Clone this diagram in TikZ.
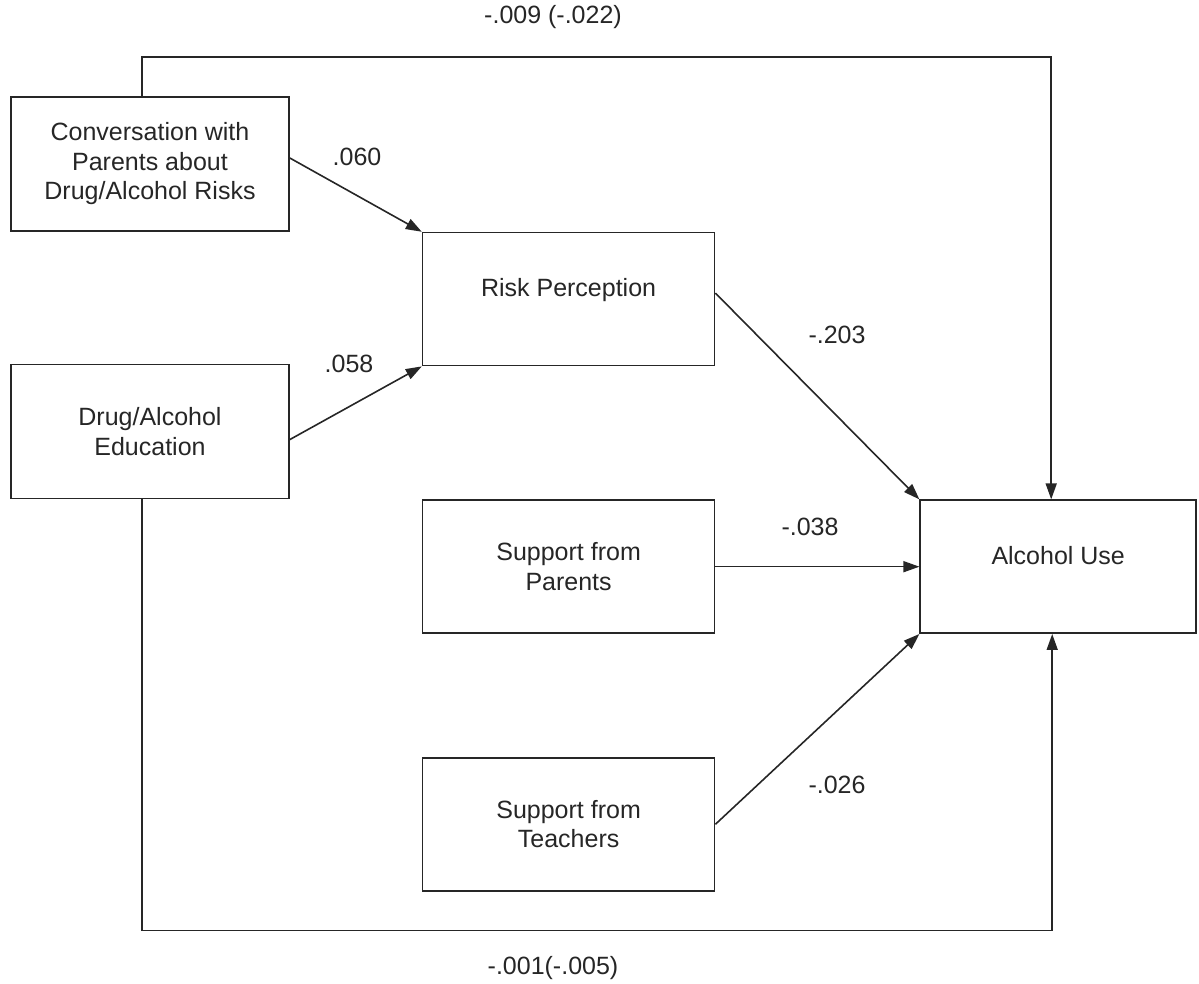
\documentclass[tikz,border=0pt]{standalone}
\usepackage{fontspec}
\setmainfont{Liberation Sans}
\usetikzlibrary{arrows.meta, positioning}
\definecolor{InkGray}{RGB}{38,38,38}
\tikzset{%
  var_block/.style={%
    rectangle,%
    draw=InkGray,%
    line width=1.6pt,%
    minimum width=278pt,%
    minimum height=134pt,%
    text=InkGray,%
    font={\fontsize{25}{29.5}\selectfont},%
    align=center%
  },
  wide_block/.style={%
    var_block,%
    minimum width=292pt,%
    minimum height=133pt%
  },
  raised_text/.style={%
    text depth=23pt%
  },
  coef_annotate/.style={%
    text=InkGray,%
    inner sep=0pt,%
    font={\fontsize{25}{29.5}\selectfont},%
  },
  effect_path/.style={%
    color=InkGray,%
    line width=1.6pt,%
    line join=miter,%
  },
  arrow/.style={-{Triangle[length=16pt, width=11pt]}},
}

\begin{document}
\begin{tikzpicture}[x=1pt, y=1pt]

    \useasboundingbox (0, 0) rectangle (1199, 984);

    \node [var_block] (Conversation) at (150, 820)
      {Conversation with\\Parents about\\Drug/Alcohol Risks};
    \node [var_block, below = 132pt of Conversation] (Education)
      {Drug/Alcohol\\Education};
    \node [wide_block, raised_text, below right = 0pt and 132pt of Conversation] (Risk)
      {Risk Perception};
    \node [wide_block, below = 133pt of Risk] (ParentSupport)
      {Support from\\Parents};
    \node [wide_block, below = 123pt of ParentSupport] (TeacherSupport)
      {Support from\\Teachers};
    \node [var_block, raised_text, minimum width=276pt, minimum height=133pt,
      right = 204pt of ParentSupport] (AlcoholUse) {Alcohol Use};

    \node [coef_annotate] (c_conv) at (357, 827) {.060};
    \node [coef_annotate] (c_edu) at (349, 620) {.058};
    \node [coef_annotate] (c_risk) at (837, 649) {-.203};
    \node [coef_annotate] (c_parents) at (810, 457) {-.038};
    \node [coef_annotate] (c_teachers) at (837, 199) {-.026};
    \node [coef_annotate] (c_top) at (553, 967) {-.009 (-.022)};
    \node [coef_annotate] (c_bottom) at (553, 16) {-.001(-.005)};

    \draw [arrow, effect_path]
      ([yshift=6pt]Conversation.east)
      --
      (Risk.north west);
    \draw [arrow, effect_path]
      ([yshift=-8pt]Education.east)
      --
      (Risk.south west);
    \draw [arrow, effect_path]
      ([yshift=6pt]Risk.east)
      --
      (AlcoholUse.north west);
    \draw [arrow, effect_path]
      (ParentSupport.east)
      --
      (AlcoholUse.west);
    \draw [arrow, effect_path]
      (TeacherSupport.east)
      --
      (AlcoholUse.south west);
    \draw [arrow, effect_path]
      ([xshift=-8pt]Conversation.north)
      --
      ++(0, 39)
      -|
      ([xshift=-7pt]AlcoholUse.north);
    \draw [arrow, effect_path]
      ([xshift=-8pt]Education.south)
      --
      ++(0, -431)
      -|
      ([xshift=-6pt]AlcoholUse.south);
  \end{tikzpicture}
\end{document}
